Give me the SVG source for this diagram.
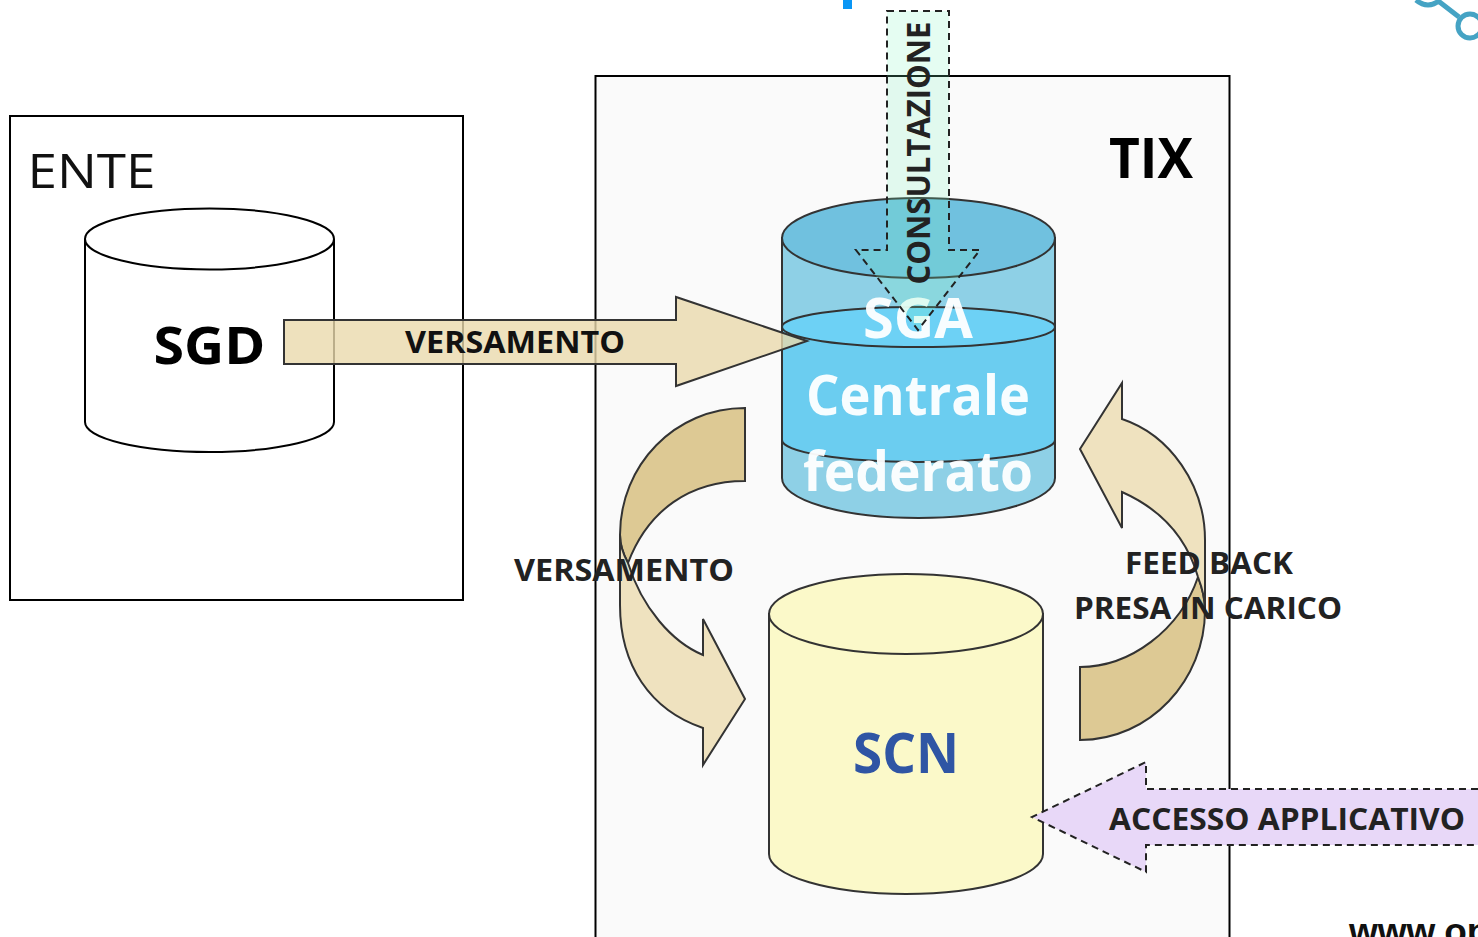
<svg xmlns="http://www.w3.org/2000/svg" width="1478" height="937" viewBox="0 0 1478 937">
<style>
.o{stroke:#333;stroke-width:2}
.k{stroke:#000;stroke-width:2}
.d{stroke:#222;stroke-width:2;stroke-dasharray:7 5}
text{font-family:"Open Sans","Noto Sans","Liberation Sans",sans-serif;font-weight:700;text-anchor:middle}
.l{font-size:31px;fill:#222}
.w{fill:#fff;font-size:56px;fill-opacity:.95}
</style>
<rect width="1478" height="937" fill="#fff"/>
<rect x="843" y="0" width="9" height="9" fill="#0a96f5"/>
<g id="logo" fill="none" stroke="#45a3c4" stroke-width="5"><path d="M1416 0q12 10 24 0M1437 0L1459 17"/><circle cx="1470" cy="26" r="12"/></g>
<text x="1349" y="944" style="font-family:'Liberation Sans',sans-serif;font-size:37px;fill:#111;text-anchor:start">www.op</text>
<g id="ente"><rect x="10" y="116" width="453" height="484" fill="#fff" class="k"/><text x="91.500" y="188" font-size="48" textLength="128" lengthAdjust="spacingAndGlyphs" style="font-weight:400;fill:#111">ENTE</text></g>
<g id="sgd"><path d="M85 239V422A124.500 30 0 0 0 334 422V239" fill="#fff" class="k"/><ellipse cx="209.500" cy="239" rx="124.500" ry="30.500" fill="#fff" class="k"/><text x="209.500" y="364" font-size="52" textLength="112" lengthAdjust="spacingAndGlyphs" fill="#000">SGD</text></g>
<g id="tix"><rect x="595.500" y="76" width="634" height="880" fill="#fafafa" class="k"/><text x="1151" y="178" font-size="55" textLength="84" lengthAdjust="spacingAndGlyphs" fill="#000">TIX</text></g>
<g id="sga">
<path d="M782 238V478A136.500 40 0 0 0 1055 478V238Z" fill="#8ed0e6" class="o"/>
<ellipse cx="918.500" cy="238" rx="136.500" ry="40" fill="#70c1df" class="o"/>
<path d="M782 327V440A136.500 22 0 0 0 1055 440V327Z" fill="#6bcdf0" class="o"/>
<ellipse cx="918.500" cy="327" rx="136.500" ry="20" fill="#6dd1f5" class="o"/>
<text class="w" x="918" y="338" textLength="110" lengthAdjust="spacingAndGlyphs">SGA</text>
<text class="w" x="918" y="415" textLength="224" lengthAdjust="spacingAndGlyphs">Centrale</text>
<text class="w" x="918" y="491" textLength="230" lengthAdjust="spacingAndGlyphs">federato</text>
</g>
<g id="scn"><path d="M769 614V854A137 40 0 0 0 1043 854V614Z" fill="#fbf9c9" class="o"/><ellipse cx="906" cy="614" rx="137" ry="40" fill="#fbf9c9" class="o"/><text x="906" y="773" font-size="56" textLength="106" lengthAdjust="spacingAndGlyphs" fill="#2f55a4">SCN</text></g>
<g id="connectors">
<g id="c-versamento-1"><path d="M284 320H676V297L807 341L676 386V364H284Z" fill="#ead9ac" fill-opacity=".8" class="o"/><text class="l" x="515" y="353" textLength="220" lengthAdjust="spacingAndGlyphs" style="fill:#111">VERSAMENTO</text></g>
<g id="c-versamento-2"><path d="M628 563C622 552 620 545 620 535C620 465 675 408 745 408V481C690 481 648 510 628 563Z" fill="#ddc994" class="o"/>
<path d="M628 563C642 608 672 642 703 655V619L745 699L703 765V728C650 710 620 665 620 605V535C620 545 622 552 628 563Z" fill="#efe2bf" class="o"/>
<text class="l" x="624" y="581" textLength="220" lengthAdjust="spacingAndGlyphs">VERSAMENTO</text></g>
<g id="c-feedback"><path d="M1198 577C1203 590 1205 600 1205 610C1205 680 1150 740 1080 740V667C1130 667 1180 630 1198 577Z" fill="#ddc994" class="o"/>
<path d="M1198 577C1186 535 1158 508 1122 492V528L1080 449L1122 383V419C1170 435 1205 485 1205 540V610C1205 600 1203 590 1198 577Z" fill="#efe2bf" class="o"/>
<text class="l" x="1209" y="574" textLength="168" lengthAdjust="spacingAndGlyphs">FEED BACK</text>
<text class="l" x="1208" y="619" textLength="268" lengthAdjust="spacingAndGlyphs">PRESA IN CARICO</text></g>
<g id="c-consultazione"><path d="M887 11H949V250H980L918 330L856 250H887Z" fill="#7ff5c0" fill-opacity=".2" class="d"/><text class="l" transform="translate(930 153) rotate(-90)" style="font-size:33px" textLength="263" lengthAdjust="spacingAndGlyphs">CONSULTAZIONE</text></g>
<g id="c-accesso"><path d="M1490 789H1146V762L1032 817L1146 872V845H1490Z" fill="#e8d8f8" class="d"/><text class="l" x="1287" y="830" textLength="356" lengthAdjust="spacingAndGlyphs">ACCESSO APPLICATIVO</text></g>
</g>
</svg>
